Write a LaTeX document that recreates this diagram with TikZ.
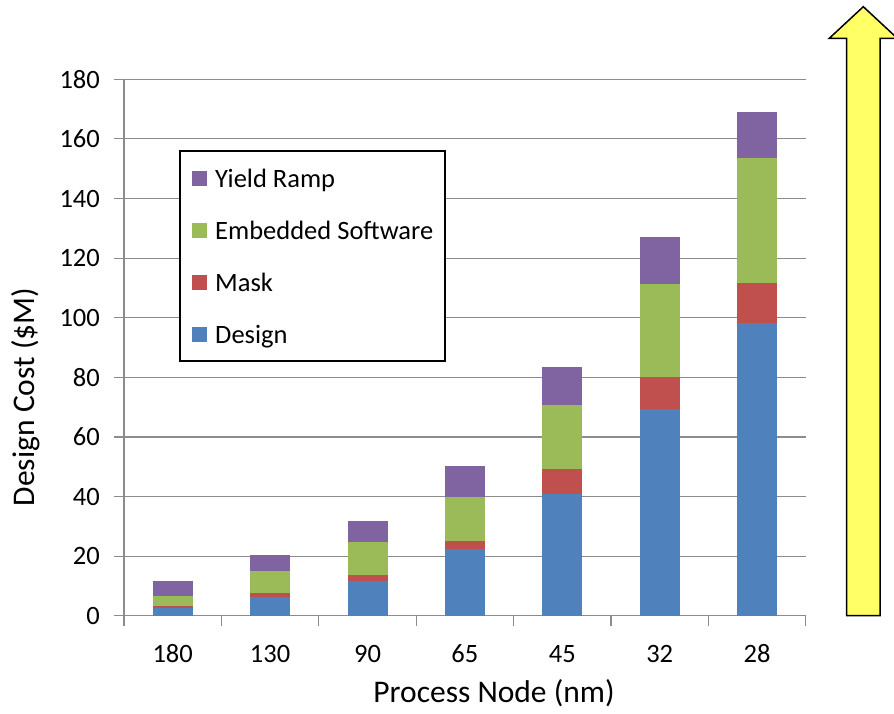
\documentclass[tikz,border=0pt]{standalone}
\usepackage{fontspec}
\setmainfont{Carlito}
\definecolor{cdesign}{HTML}{4F81BD}
\definecolor{cmask}{HTML}{C0504D}
\definecolor{csoft}{HTML}{9BBB59}
\definecolor{cyield}{HTML}{8064A2}
\definecolor{gridgray}{HTML}{8C8C8C}
\definecolor{arrowyellow}{HTML}{FFFF66}
\tikzset{
  gridline/.style={draw=gridgray, line width=1.2pt},
  ticklabel/.style={inner sep=0pt, font=\fontsize{26.5}{30}\selectfont},
  axistitle/.style={inner sep=0pt, font=\fontsize{31.5}{36}\selectfont},
  legendtext/.style={inner sep=0pt, anchor=base west, font=\fontsize{26.5}{30}\selectfont},
  swatch/.style={minimum size=15pt, inner sep=0pt, draw=none},
}
\begin{document}
\begin{tikzpicture}[x=1pt, y=-1pt]
\useasboundingbox (0,0) rectangle (894,714);
\clip (0,0) rectangle (894,714);
\fill[white] (0,0) rectangle (894,714);

% horizontal grid lines, y tick labels
\foreach \v in {0,20,...,180} {
  \pgfmathsetmacro{\yy}{615.7-2.98*\v}
  \draw[gridline] (114,\yy) -- (805.7,\yy);
  \node[ticklabel, anchor=east] (yl\v) at (100,\yy) {\v};
}
% value axis
\draw[gridline] (124,79.3) -- (124,615.7);
% category ticks
\foreach \k in {0,...,7} {
  \draw[gridline] ({124+97.4*\k},615.7) -- ({124+97.4*\k},626);
}

% stacked bars: cumulative tops of Design, Mask, Embedded Software, Yield Ramp
\begin{scope}[shift={(124pt,-615.7pt)}, x=97.4pt, y=2.98pt]
\foreach \i/\lab/\a/\b/\c/\d in {
  0/180/2.5/3.4/6.5/11.6,
  1/130/6.2/7.6/14.9/20.4,
  2/90/11.6/13.7/24.6/31.8,
  3/65/22.3/25.1/39.7/50.3,
  4/45/40.7/49.1/70.7/83.6,
  5/32/69.4/80.0/111.3/127.2,
  6/28/98.1/111.5/153.5/169.1} {
  \fill[cdesign] ({\i+0.5-0.2053},0) rectangle ({\i+0.5+0.2053},\a);
  \fill[cmask]   ({\i+0.5-0.2053},\a) rectangle ({\i+0.5+0.2053},\b);
  \fill[csoft]   ({\i+0.5-0.2053},\b) rectangle ({\i+0.5+0.2053},\c);
  \fill[cyield]  ({\i+0.5-0.2053},\c) rectangle ({\i+0.5+0.2053},\d);
  \node[ticklabel] (xl\lab) at ({\i+0.5},-12.8) {\lab};
}
\end{scope}

% legend
\draw[black, line width=1.3pt, fill=white] (180,151) rectangle (445,361);
\foreach \c/\t/\yy/\n in {cyield/Yield Ramp/178.5/ly, csoft/Embedded Software/230.7/ls, cmask/Mask/282.8/lm, cdesign/Design/334.5/ld} {
  \node[swatch, fill=\c] (\n sq) at (199.8,\yy) {};
  \node[legendtext] (\n) at (215,\yy+8.6) {\t};
}

% axis titles
\node[axistitle, rotate=90] (ytitle) at (26,397) {Design Cost (\$M)};
\node[axistitle] (xtitle) at (494,693) {Process Node (nm)};

% rising cost arrow
\draw[black, line width=1.5pt, fill=arrowyellow, line join=miter]
  (846.7,615.7) -- (846.7,38.3) -- (829.3,38.3) -- (863.3,6.7)
  -- (897.3,38.3) -- (880,38.3) -- (880,615.7) -- cycle;
\end{tikzpicture}
\end{document}
